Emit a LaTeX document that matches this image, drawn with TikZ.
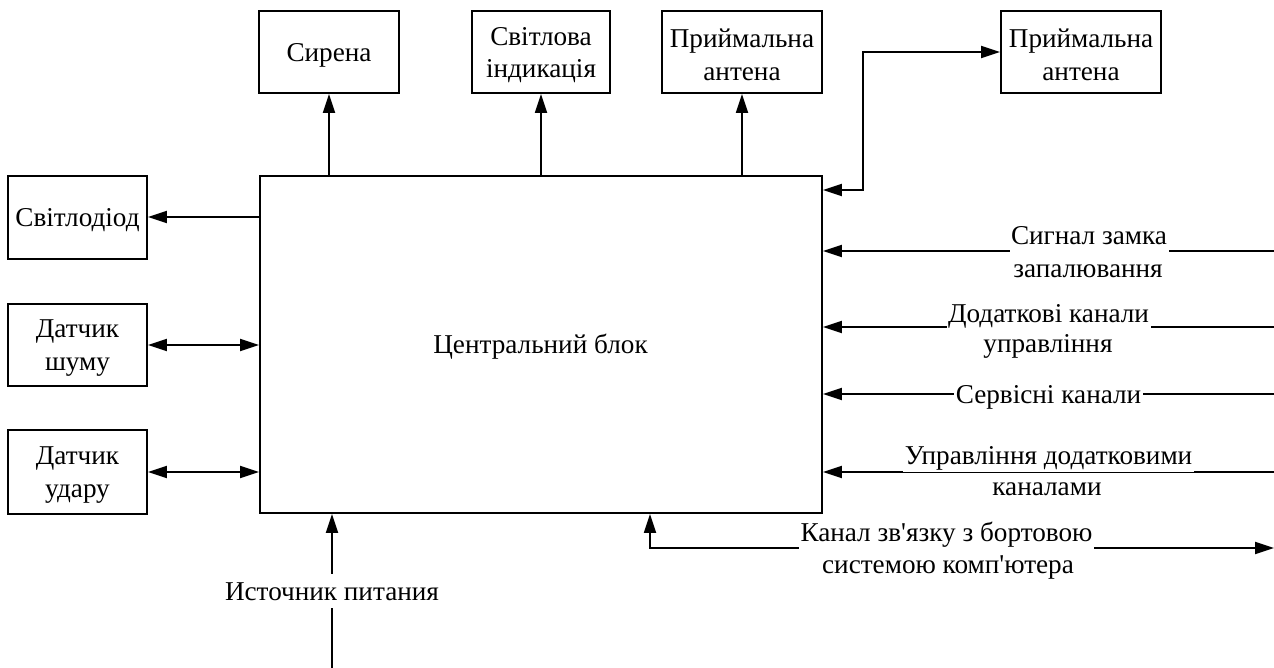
\documentclass[tikz,border=0pt]{standalone}
\usepackage{fontspec}
\setmainfont{Liberation Serif}[Ligatures=TeXOff]
\usetikzlibrary{arrows.meta}
\begin{document}
\begin{tikzpicture}[x=1pt,y=-1pt,
  every node/.style={font=\fontsize{27.2pt}{32.5pt}\selectfont, inner sep=0pt},
  blk/.style={draw, line width=1.8pt},
  btxt/.style={align=center, yshift=-3pt},
  tip/.style={-{Triangle[length=19pt,width=12pt]}, line width=1.8pt},
  dtip/.style={{Triangle[length=19pt,width=12pt]}-{Triangle[length=19pt,width=12pt]}, line width=1.8pt},
  lbl/.style={fill=white, anchor=base, inner xsep=1.5pt, inner ysep=0pt, text height=20pt, text depth=8pt},
  sub/.style={anchor=base}]
  \useasboundingbox (0,0) rectangle (1274,668);

  % central unit
  \node[blk, minimum width=562pt, minimum height=337pt] (cb) at (541,344.5) {};
  \node[anchor=base] (cbt) at (540.5,353) {Центральний блок};

  % output blocks along the top
  \node[blk, minimum width=140pt, minimum height=82pt] (sir) at (329,52) {};
  \node[btxt] (sirt) at (sir) {Сирена};
  \node[blk, minimum width=138pt, minimum height=82pt] (ind) at (541,52) {};
  \node[btxt] (indt) at (ind) {Світлова\\індикація};
  \node[blk, minimum width=160pt, minimum height=82pt] (ant1) at (742,52) {};
  \node[btxt] (ant1t) at (ant1) {Приймальна\\антена};
  \node[blk, minimum width=160pt, minimum height=82pt] (ant2) at (1081,52) {};
  \node[btxt] (ant2t) at (ant2) {Приймальна\\антена};

  % blocks on the left
  \node[blk, minimum width=139pt, minimum height=83pt] (led) at (77.5,217.5) {};
  \node[btxt] (ledt) at (led) {Світлодіод};
  \node[blk, minimum width=139pt, minimum height=82pt] (noise) at (77.5,345) {};
  \node[btxt] (noiset) at (noise) {Датчик\\шуму};
  \node[blk, minimum width=139pt, minimum height=84pt] (shock) at (77.5,472) {};
  \node[btxt] (shockt) at (shock) {Датчик\\удару};

  % connectors to the top blocks
  \draw[tip] (sir.south |- cb.north) -- (sir.south);
  \draw[tip] (ind.south |- cb.north) -- (ind.south);
  \draw[tip] (ant1.south |- cb.north) -- (ant1.south);
  \coordinate (jog) at (863,190);
  \draw[dtip] (ant2.west) -| (jog) -- (jog -| cb.east);

  % connectors to the left blocks
  \coordinate (ledy) at (0,217);
  \draw[tip] (ledy -| cb.west) -- (ledy -| led.east);
  \draw[dtip] (noise.east) -- (noise.east -| cb.west);
  \draw[dtip] (shock.east) -- (shock.east -| cb.west);

  % incoming signal lines on the right
  \coordinate (s1) at (1274,251);
  \coordinate (s2) at (1274,327);
  \coordinate (s3) at (1274,394);
  \coordinate (s4) at (1274,472);
  \draw[tip] (s1) -- (s1 -| cb.east);
  \draw[tip] (s2) -- (s2 -| cb.east);
  \draw[tip] (s3) -- (s3 -| cb.east);
  \draw[tip] (s4) -- (s4 -| cb.east);
  \node[lbl] (l1) at (1089,245) {Сигнал замка};
  \node[sub] (l1b) at (1088,278) {запалювання};
  \node[lbl] (l2) at (1048.5,322) {Додаткові канали};
  \node[sub] (l2b) at (1048,352) {управління};
  \node[lbl] (l3) at (1048.5,403) {Сервісні канали};
  \node[lbl] (l4) at (1048.5,464) {Управління додатковими};
  \node[sub] (l4b) at (1047,495) {каналами};

  % link to the on-board computer
  \coordinate (k1) at (650,548);
  \coordinate (kend) at (1274,548);
  \draw[dtip] (k1 |- cb.south) -- (k1) -- (kend);
  \node[lbl] (l5) at (946.5,541) {Канал зв'язку з бортовою};
  \node[sub] (l5b) at (948,573) {системою комп'ютера};

  % power supply
  \coordinate (pw) at (332,668);
  \node[anchor=base, inner xsep=0pt, inner ysep=8pt, text height=18pt, text depth=0pt] (pwl) at (332,600) {Источник питания};
  \draw[line width=1.8pt] (pw) -- (pwl.south);
  \draw[tip] (pwl.north) -- (pwl.north |- cb.south);
\end{tikzpicture}
\end{document}
